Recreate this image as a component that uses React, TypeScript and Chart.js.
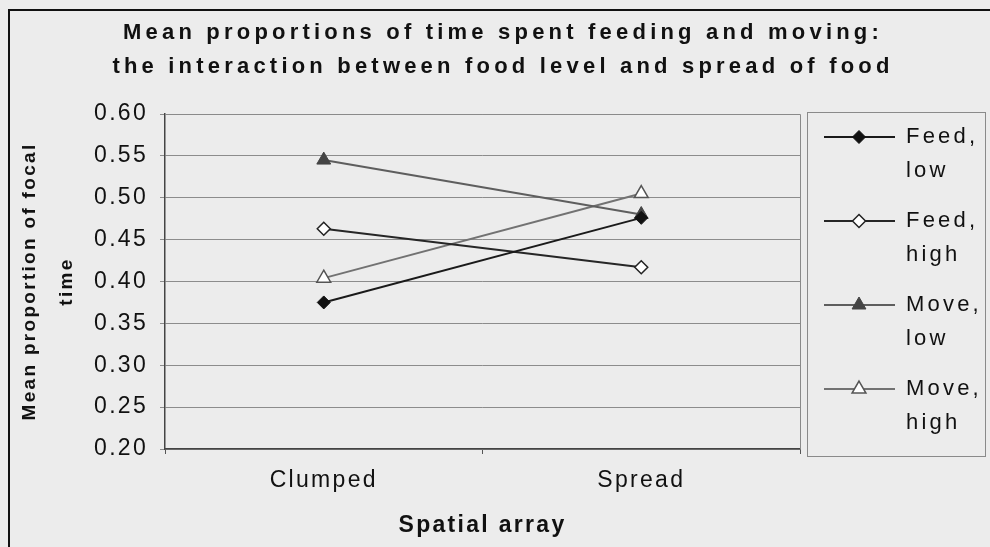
import React, { useEffect, useRef } from "react";
import { Chart, registerables } from "chart.js";

Chart.register(...registerables);

const categories = ["Clumped", "Spread"];
const feedLow = [0.375, 0.476];
const feedHigh = [0.463, 0.417];
const moveLow = [0.545, 0.48];
const moveHigh = [0.404, 0.505];
const seriesLabels = [
  ["Feed,", "low"],
  ["Feed,", "high"],
  ["Move,", "low"],
  ["Move,", "high"],
];
const titleLines = [
  "Mean proportions of time spent feeding and moving:",
  "the interaction between food level and spread of food",
];
const yTitle = ["Mean proportion of focal", "time"];
const xTitle = "Spatial array";
const yMin = 0.2;
const yMax = 0.6;
const yStep = 0.05;

const FONT = "'Liberation Sans', Arial, Helvetica, sans-serif";

function drawMarker(ctx: CanvasRenderingContext2D, style: string, r: number, x: number, y: number, fill: string, stroke: string, bw: number) {
  ctx.save();
  ctx.beginPath();
  if (style === "rectRot") {
    ctx.moveTo(x, y - r);
    ctx.lineTo(x + r, y);
    ctx.lineTo(x, y + r);
    ctx.lineTo(x - r, y);
    ctx.closePath();
  } else {
    const a = Math.PI / 2;
    const k = (2 * Math.PI) / 3;
    ctx.moveTo(x + Math.cos(-a) * r, y + Math.sin(-a) * r);
    ctx.lineTo(x + Math.cos(-a + k) * r, y + Math.sin(-a + k) * r);
    ctx.lineTo(x + Math.cos(-a + 2 * k) * r, y + Math.sin(-a + 2 * k) * r);
    ctx.closePath();
  }
  ctx.fillStyle = fill;
  ctx.fill();
  ctx.lineWidth = bw;
  ctx.strokeStyle = stroke;
  ctx.stroke();
  ctx.restore();
}

export default function App() {
  const ref = useRef<HTMLCanvasElement>(null);

  useEffect(() => {
    const canvas = ref.current!;
    const setSpacing = (chart: any) => {
      (chart.ctx as any).letterSpacing = "2.3px";
    };

    const decor = {
      id: "decor",
      beforeLayout: setSpacing,
      beforeDraw(chart: any) {
        const ctx: CanvasRenderingContext2D = chart.ctx;
        ctx.save();
        ctx.fillStyle = "#ececec";
        ctx.fillRect(0, 0, chart.width, chart.height);
        ctx.restore();
        setSpacing(chart);
      },
      afterDraw(chart: any) {
        const ctx: CanvasRenderingContext2D = chart.ctx;
        const a = chart.chartArea;
        ctx.save();
        // plot area top/right border
        ctx.strokeStyle = "#8a8a8a";
        ctx.lineWidth = 1;
        ctx.beginPath();
        ctx.moveTo(a.left, a.top + 0.5);
        ctx.lineTo(a.right + 0.5, a.top + 0.5);
        ctx.lineTo(a.right + 0.5, a.bottom);
        ctx.stroke();

        // outer frame
        ctx.strokeStyle = "#111";
        ctx.lineWidth = 2;
        ctx.beginPath();
        ctx.moveTo(9, chart.height);
        ctx.lineTo(9, 10);
        ctx.lineTo(chart.width, 10);
        ctx.stroke();

        // title
        (ctx as any).letterSpacing = "4.2px";
        ctx.fillStyle = "#111";
        ctx.font = `bold 22px ${FONT}`;
        ctx.textAlign = "center";
        ctx.textBaseline = "middle";
        ctx.fillText(titleLines[0], 503, 33);
        ctx.fillText(titleLines[1], 503, 67);

        // legend box
        (ctx as any).letterSpacing = "3.2px";
        ctx.strokeStyle = "#8a8a8a";
        ctx.lineWidth = 1;
        ctx.strokeRect(807.5, 112.5, 178, 344);
        ctx.font = `22px ${FONT}`;
        ctx.textAlign = "left";
        chart.data.datasets.forEach((ds: any, i: number) => {
          const y = 137 + i * 84;
          ctx.strokeStyle = ds.borderColor;
          ctx.lineWidth = ds.borderWidth;
          ctx.beginPath();
          ctx.moveTo(824, y);
          ctx.lineTo(895, y);
          ctx.stroke();
          drawMarker(ctx, ds.pointStyle, ds.pointRadius, 859, y, ds.pointBackgroundColor, ds.pointBorderColor, ds.pointBorderWidth);
          ctx.fillStyle = "#111";
          ctx.fillText(seriesLabels[i][0], 906, y);
          ctx.fillText(seriesLabels[i][1], 906, y + 34);
        });
        ctx.restore();
      },
    };

    const chart = new Chart(canvas, {
      type: "line",
      data: {
        labels: categories,
        datasets: [
          {
            label: seriesLabels[0].join(" "),
            data: feedLow,
            borderColor: "#1a1a1a",
            borderWidth: 2,
            pointStyle: "rectRot",
            pointRadius: 6.5,
            pointBackgroundColor: "#111",
            pointBorderColor: "#111",
            pointBorderWidth: 1,
          },
          {
            label: seriesLabels[1].join(" "),
            data: feedHigh,
            borderColor: "#262626",
            borderWidth: 2,
            pointStyle: "rectRot",
            pointRadius: 6.5,
            pointBackgroundColor: "#ffffff",
            pointBorderColor: "#222",
            pointBorderWidth: 1.5,
          },
          {
            label: seriesLabels[2].join(" "),
            data: moveLow,
            borderColor: "#5e5e5e",
            borderWidth: 2,
            pointStyle: "triangle",
            pointRadius: 8,
            pointBackgroundColor: "#444",
            pointBorderColor: "#444",
            pointBorderWidth: 1,
          },
          {
            label: seriesLabels[3].join(" "),
            data: moveHigh,
            borderColor: "#727272",
            borderWidth: 2,
            pointStyle: "triangle",
            pointRadius: 8,
            pointBackgroundColor: "#ffffff",
            pointBorderColor: "#555",
            pointBorderWidth: 1.5,
          },
        ],
      },
      options: {
        animation: false,
        responsive: false,
        events: [],
        layout: { padding: { top: 114, right: 190, left: 0, bottom: 0 } },
        plugins: {
          legend: { display: false },
          title: { display: false },
          tooltip: { enabled: false },
        },
        scales: {
          x: {
            type: "category",
            offset: true,
            grid: { offset: true, drawOnChartArea: false, tickLength: 5, color: "#555" },
            border: { color: "#444", width: 1.5 },
            ticks: { color: "#111", font: { family: FONT, size: 23 }, padding: 13, maxRotation: 0 },
            title: {
              display: true,
              text: xTitle,
              color: "#111",
              font: { family: FONT, size: 23, weight: "bold" },
              padding: { top: 0, bottom: 8 },
            },
            afterFit(s: any) {
              s.height = 98;
            },
          },
          y: {
            min: yMin,
            max: yMax,
            grid: { color: "#8c8c8c", tickLength: 5 },
            border: { color: "#444", width: 1.5 },
            ticks: {
              stepSize: yStep,
              color: "#111",
              font: { family: FONT, size: 23 },
              padding: 12,
              callback: (v: any) => Number(v).toFixed(2),
            },
            title: {
              display: true,
              text: yTitle,
              color: "#111",
              font: { family: FONT, size: 19, weight: "bold", lineHeight: "37px" },
              padding: { top: 11, bottom: 0 },
            },
            afterFit(s: any) {
              s.width = 165;
            },
          },
        },
      },
      plugins: [decor],
    });

    return () => chart.destroy();
  }, []);

  return (
    <div style={{ position: "fixed", left: 0, top: 0, width: 990, height: 547, background: "#ececec" }}>
      <canvas ref={ref} width={990} height={547} style={{ width: 990, height: 547, display: "block" }} />
    </div>
  );
}
